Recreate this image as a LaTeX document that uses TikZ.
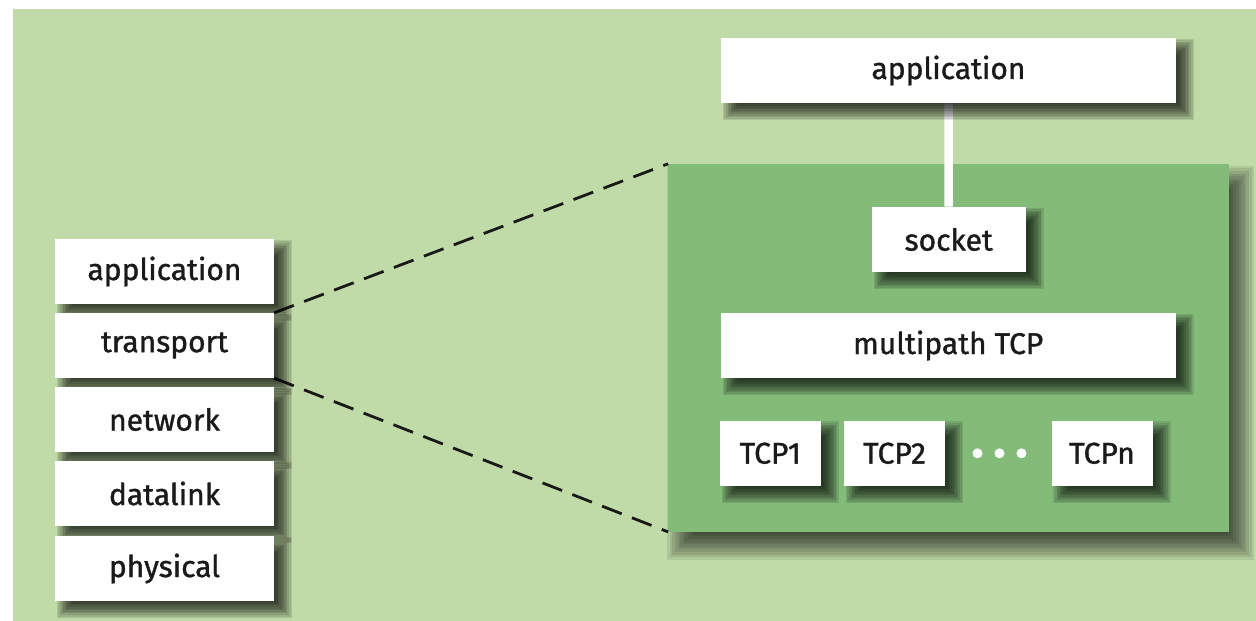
\documentclass[tikz,border=0pt]{standalone}
\usepackage{fontspec}
\setmainfont{Fira Sans}[FakeBold=1.2]
\definecolor{bglight}{RGB}{192,219,167}
\definecolor{bgdark}{RGB}{131,187,121}
\definecolor{txt}{RGB}{26,26,26}
\pgfdeclarelayer{bglayer}
\pgfdeclarelayer{linelayer}
\pgfdeclarelayer{shadowlayer}
\pgfsetlayers{bglayer,linelayer,shadowlayer,main}
% #1 node, #2 xshift, #3 yshift, #4 blur radius, #5 opacity per step
\newcommand\mkshadow[5]{%
  \foreach \k in {0,...,10}{%
    \pgfmathsetmacro\ee{#4*(1-\k/5)}%
    \fill[black, fill opacity=#5]
      ([shift={(#2-\ee,#3-\ee)}]#1.south west) rectangle ([shift={(#2+\ee,#3+\ee)}]#1.north east);
  }}
\tikzset{
  box/.style={fill=white, draw=none, inner sep=0pt, text=txt,
    font=\fontsize{30}{34}\selectfont},
  leftbox/.style={box, minimum width=219pt, minimum height=65pt},
  widebox/.style={box, minimum width=455pt, minimum height=65.5pt},
  tcpbox/.style={box, minimum width=101pt, minimum height=65.5pt},
  dashline/.style={draw=black!90, line width=2.8pt, dash pattern=on 21pt off 11pt},
  stem/.style={draw=white, line width=8.5pt},
  dot/.style={circle, fill=white, inner sep=0pt, minimum size=10pt}
}
\begin{document}
\begin{tikzpicture}[x=1pt,y=1pt]
\useasboundingbox (0,0) rectangle (1256,621);
% left stack
\node[leftbox] (lapp) at (164.5,349.5) {application};
\node[leftbox] (ltrans) at (164.5,275.5) {transport};
\node[leftbox] (lnet) at (164.5,201.5) {network};
\node[leftbox] (ldl) at (164.5,127.5) {datalink};
\node[leftbox] (lphy) at (164.5,52.5) {physical};
% right stack
\node[widebox] (rapp) at (948.5,550.5) {application};
\node[box, minimum width=154pt, minimum height=65.5pt] (sock) at (948.7,381.5) {socket};
\node[widebox] (mp) at (948.2,275.5) {multipath TCP};
\node[tcpbox] (tcp1) at (770.3,167.7) {TCP1};
\node[tcpbox] (tcp2) at (894.5,167.7) {TCP2};
\node[tcpbox] (tcpn) at (1102,167.7) {TCPn};
\node[dot] (d1) at (977.5,167.7) {};
\node[dot] (d2) at (999.5,167.7) {};
\node[dot] (d3) at (1021.5,167.7) {};
\begin{pgfonlayer}{bglayer}
  \fill[bglight] (13,0) rectangle (1256,612);
  \node[inner sep=0pt, minimum width=560.7pt, minimum height=367.7pt]
    (mpbox) at (948.65,273.15) {};
  \mkshadow{mpbox}{12}{-15}{13}{0.085}
  \fill[bgdark] (mpbox.south west) rectangle (mpbox.north east);
\end{pgfonlayer}
\begin{pgfonlayer}{linelayer}
  \draw[stem] (rapp.south) -- (sock.north);
  \draw[dashline] (ltrans.north east) -- (mpbox.north west);
  \draw[dashline] (ltrans.south east) -- (mpbox.south west);
\end{pgfonlayer}
\begin{pgfonlayer}{shadowlayer}
  \foreach \n in {lapp,ltrans,lnet,ldl,lphy,rapp,sock,mp,tcp1,tcp2,tcpn}{
    \mkshadow{\n}{10}{-9}{8}{0.1}
  }
\end{pgfonlayer}
\end{tikzpicture}
\end{document}
